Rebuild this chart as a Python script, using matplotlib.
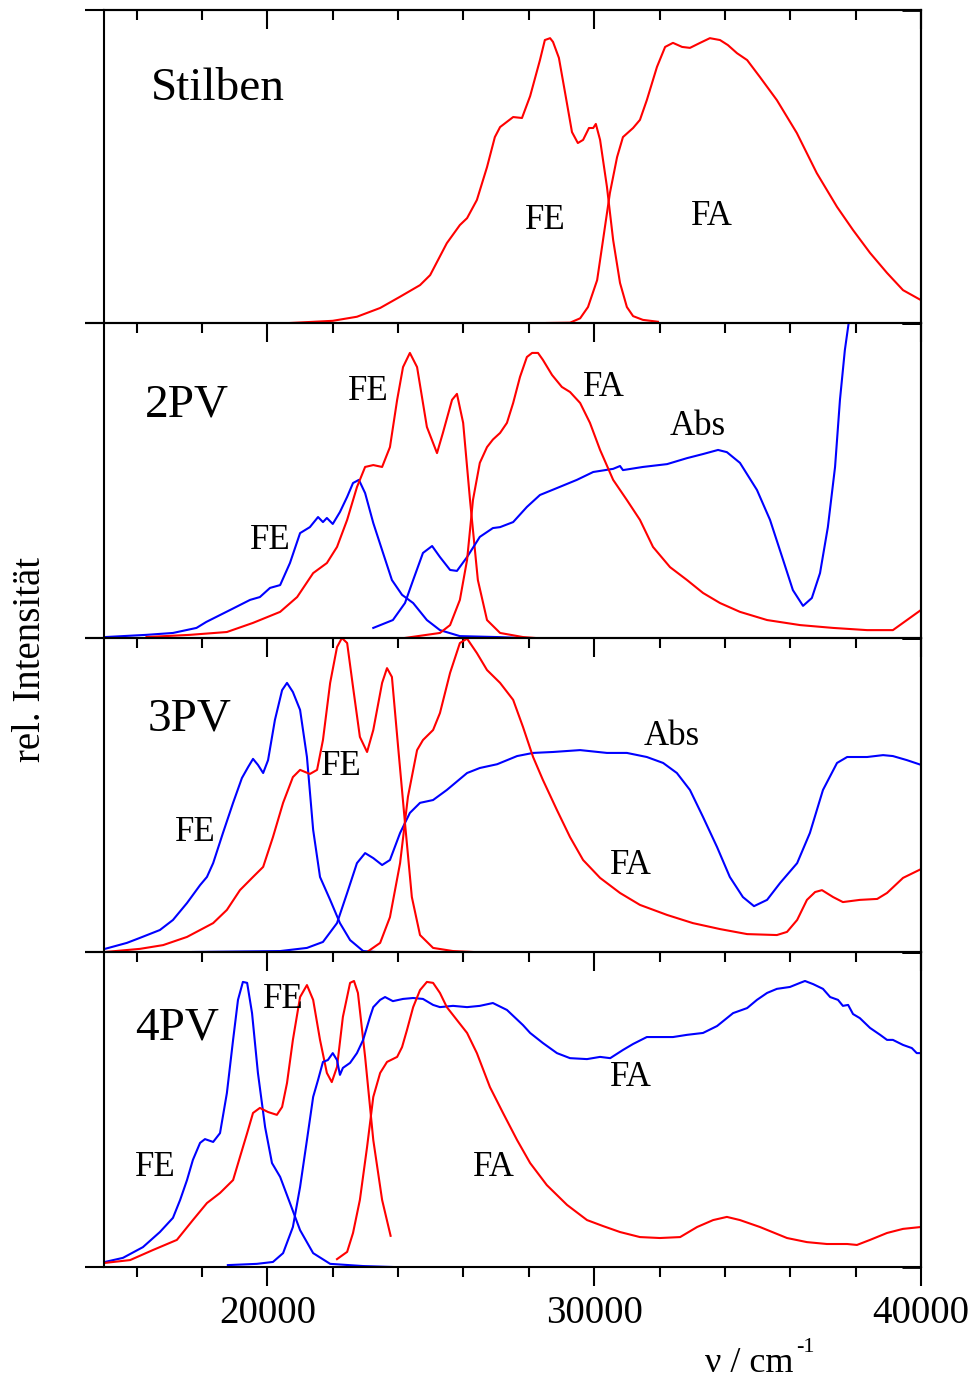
import matplotlib
matplotlib.use("Agg")
import matplotlib.pyplot as plt

plt.rcParams["font.family"] = ["Liberation Serif", "DejaVu Serif"]

RED = "#ff0000"
BLUE = "#0000ff"

# x axis, wavenumber in cm^-1
X_MIN, X_MAX = 15000, 40000
MAJOR_TICKS = [20000, 30000, 40000]
MINOR_TICKS = [16000, 18000, 22000, 24000, 26000, 28000, 32000, 34000, 36000, 38000]
TICK_LABELS = ["20000", "30000", "40000"]

# ---- Stilben ----
stilben_fe_x = [20690, 22000, 22740, 23450, 24060, 24670, 24980, 25490, 25890, 26110, 26410, 26720,
                26960, 27120, 27520, 27790, 28040, 28340, 28490, 28650, 28740, 28920, 29110, 29320,
                29500, 29660, 29840, 29970, 30050, 30180, 30390, 30580, 30790, 31000, 31190, 31490, 31950]
stilben_fe_y = [0, 0.007, 0.02, 0.048, 0.084, 0.121, 0.153, 0.255, 0.313, 0.335, 0.393, 0.498,
                0.594, 0.626, 0.658, 0.655, 0.725, 0.840, 0.904, 0.910, 0.898, 0.847, 0.735, 0.610,
                0.575, 0.585, 0.623, 0.623, 0.636, 0.585, 0.435, 0.265, 0.128, 0.051, 0.022, 0.010, 0.004]
stilben_fa_x = [28550, 29260, 29570, 29810, 30090, 30270, 30480, 30700, 30880, 31190, 31400, 31610,
                31920, 32170, 32410, 32690, 32930, 33240, 33540, 33850, 34090, 34370, 34680, 35070,
                35590, 36200, 36810, 37430, 37920, 38440, 38960, 39450, 40000]
stilben_fa_y = [0, 0.001, 0.015, 0.051, 0.137, 0.265, 0.415, 0.530, 0.594, 0.623, 0.649, 0.712,
                0.818, 0.882, 0.895, 0.882, 0.879, 0.895, 0.910, 0.904, 0.888, 0.862, 0.840, 0.786,
                0.712, 0.607, 0.479, 0.371, 0.297, 0.224, 0.160, 0.105, 0.073]

# ---- 2PV ----
pv2_fe_blue_x = [15030, 16300, 17110, 17830, 18130, 18860, 19470, 19770, 20080, 20390, 20690, 21000,
                 21300, 21550, 21700, 21820, 22000, 22220, 22440, 22620, 22800, 22990, 23240, 23510,
                 23810, 24120, 24460, 24880, 25280, 25890, 27030, 27800]
pv2_fe_blue_y = [0.003, 0.010, 0.016, 0.032, 0.051, 0.089, 0.121, 0.130, 0.159, 0.168, 0.238, 0.333,
                 0.352, 0.384, 0.368, 0.381, 0.362, 0.400, 0.448, 0.492, 0.502, 0.460, 0.365, 0.279,
                 0.184, 0.137, 0.111, 0.057, 0.025, 0.006, 0.003, 0.0]
pv2_fe_red_x = [16300, 17630, 18760, 19560, 20390, 20910, 21400, 21820, 22130, 22440, 22740, 22990,
                23240, 23510, 23750, 23970, 24150, 24360, 24580, 24880, 25190, 25370, 25650, 25800,
                25990, 26200, 26440, 26720, 27120, 27820, 28200]
pv2_fe_red_y = [0.003, 0.010, 0.019, 0.048, 0.083, 0.130, 0.206, 0.238, 0.289, 0.375, 0.479, 0.543,
                0.549, 0.543, 0.606, 0.756, 0.860, 0.905, 0.860, 0.670, 0.587, 0.651, 0.756, 0.775,
                0.683, 0.438, 0.184, 0.057, 0.016, 0.003, 0.0]
pv2_abs_x = [23240, 23840, 24210, 24460, 24760, 25040, 25280, 25590, 25800, 26110, 26500, 26900,
             27120, 27520, 27940, 28340, 28860, 29470, 29970, 30580, 30790, 30880, 31490, 32230,
             32840, 33330, 33790, 34060, 34460, 34980, 35380, 35780, 36080, 36390, 36660, 36910,
             37150, 37370, 37520, 37670, 37800, 37890]
pv2_abs_y = [0.032, 0.057, 0.111, 0.184, 0.270, 0.292, 0.257, 0.216, 0.213, 0.257, 0.321, 0.349,
             0.352, 0.368, 0.416, 0.454, 0.476, 0.502, 0.527, 0.537, 0.546, 0.533, 0.543, 0.552,
             0.571, 0.584, 0.597, 0.590, 0.556, 0.470, 0.375, 0.248, 0.152, 0.102, 0.127, 0.206,
             0.352, 0.543, 0.756, 0.914, 1.01, 1.04]
pv2_fa_x = [24200, 25280, 25590, 25890, 26110, 26290, 26500, 26720, 26900, 27120, 27330, 27520,
            27730, 27940, 28100, 28280, 28430, 28710, 29010, 29260, 29570, 29870, 30180, 30580,
            31000, 31400, 31800, 32320, 32840, 33330, 33850, 34460, 35290, 36300, 37310, 38350,
            39140, 39570, 40000]
pv2_fa_y = [0.0, 0.016, 0.041, 0.121, 0.248, 0.438, 0.556, 0.606, 0.630, 0.651, 0.683, 0.746,
            0.829, 0.892, 0.905, 0.905, 0.883, 0.835, 0.797, 0.781, 0.746, 0.683, 0.597, 0.502,
            0.438, 0.375, 0.289, 0.225, 0.184, 0.143, 0.111, 0.083, 0.057, 0.041, 0.032, 0.025,
            0.025, 0.057, 0.089]

# ---- 3PV ----
pv3_fe_blue_x = [15030, 15700, 16100, 16710, 17110, 17540, 17940, 18150, 18340, 18640, 18950, 19220,
                 19410, 19560, 19710, 19870, 20020, 20230, 20450, 20600, 20780, 21000, 21210, 21400,
                 21610, 21920, 22220, 22530, 22930, 23300]
pv3_fe_blue_y = [0.010, 0.029, 0.045, 0.070, 0.102, 0.156, 0.213, 0.239, 0.283, 0.379, 0.475, 0.554,
                 0.589, 0.615, 0.596, 0.570, 0.611, 0.739, 0.834, 0.857, 0.828, 0.771, 0.621, 0.389,
                 0.239, 0.166, 0.092, 0.038, 0.003, 0.0]
pv3_fe_red_x = [15030, 16100, 16810, 17540, 18340, 18760, 19160, 19560, 19870, 20170, 20480, 20780,
                21000, 21300, 21520, 21700, 21920, 22130, 22280, 22440, 22620, 22830, 23050, 23240,
                23510, 23660, 23810, 24000, 24210, 24420, 24670, 25070, 25680, 26290]
pv3_fe_red_y = [0.0, 0.010, 0.022, 0.048, 0.092, 0.134, 0.197, 0.239, 0.271, 0.366, 0.475, 0.557,
                0.580, 0.567, 0.580, 0.675, 0.857, 0.971, 1.0, 0.984, 0.844, 0.685, 0.637, 0.707,
                0.857, 0.904, 0.876, 0.653, 0.411, 0.175, 0.054, 0.013, 0.003, 0.0]
pv3_abs_x = [17720, 20390, 21210, 21700, 22130, 22440, 22740, 22990, 23240, 23510, 23750, 24060,
             24360, 24670, 25070, 25490, 26110, 26500, 27030, 27640, 28130, 28740, 29570, 30390,
             31000, 31610, 32110, 32530, 32930, 33330, 33760, 34150, 34550, 34890, 35290, 35690,
             36210, 36600, 37000, 37430, 37740, 38350, 38840, 39140, 39570, 40000]
pv3_abs_y = [0.0, 0.003, 0.013, 0.032, 0.092, 0.188, 0.283, 0.315, 0.299, 0.277, 0.293, 0.379,
             0.443, 0.475, 0.484, 0.516, 0.570, 0.586, 0.598, 0.624, 0.634, 0.637, 0.643, 0.634,
             0.634, 0.621, 0.602, 0.570, 0.516, 0.430, 0.334, 0.239, 0.175, 0.146, 0.166, 0.220,
             0.283, 0.379, 0.516, 0.602, 0.621, 0.621, 0.627, 0.624, 0.611, 0.596]
pv3_fa_x = [23050, 23450, 23750, 24060, 24300, 24580, 24760, 25070, 25280, 25590, 25890, 26110,
            26410, 26720, 27120, 27520, 27820, 28130, 28430, 28860, 29260, 29660, 30180, 30790,
            31400, 32230, 33020, 33850, 34680, 35590, 35900, 36210, 36510, 36760, 36970, 37310,
            37610, 38130, 38660, 38960, 39450, 40000]
pv3_fa_y = [0.0, 0.029, 0.111, 0.283, 0.494, 0.643, 0.675, 0.707, 0.761, 0.889, 0.984, 0.998,
            0.952, 0.898, 0.857, 0.803, 0.717, 0.621, 0.548, 0.452, 0.366, 0.293, 0.236, 0.188,
            0.150, 0.118, 0.092, 0.073, 0.057, 0.054, 0.064, 0.102, 0.166, 0.191, 0.197, 0.175,
            0.159, 0.166, 0.169, 0.188, 0.236, 0.264]

# ---- 4PV ----
pv4_fe_blue_x = [15030, 15580, 16190, 16710, 17110, 17330, 17540, 17720, 17940, 18090, 18340, 18550,
                 18760, 18950, 19100, 19250, 19380, 19530, 19710, 19930, 20140, 20390, 20690, 21000,
                 21400, 21920, 22930, 23840]
pv4_fe_blue_y = [0.016, 0.029, 0.063, 0.111, 0.156, 0.213, 0.276, 0.340, 0.394, 0.406, 0.397, 0.425,
                 0.552, 0.721, 0.848, 0.905, 0.902, 0.806, 0.616, 0.444, 0.330, 0.286, 0.203, 0.117,
                 0.044, 0.010, 0.003, 0.0]
pv4_fe_red_x = [15030, 15800, 16500, 17230, 17720, 18150, 18550, 18950, 19160, 19380, 19560, 19770,
                20020, 20290, 20450, 20600, 20780, 21000, 21210, 21400, 21610, 21820, 21970, 22130,
                22310, 22530, 22650, 22770, 22990, 23240, 23510, 23770]
pv4_fe_red_y = [0.013, 0.022, 0.054, 0.086, 0.149, 0.203, 0.235, 0.276, 0.349, 0.425, 0.489, 0.505,
                0.492, 0.483, 0.508, 0.584, 0.721, 0.857, 0.895, 0.848, 0.721, 0.616, 0.587, 0.635,
                0.794, 0.902, 0.908, 0.870, 0.667, 0.403, 0.213, 0.099]
pv4_abs_x = [18790, 19680, 20170, 20480, 20780, 21000, 21210, 21400, 21550, 21700, 21850, 22000,
             22130, 22220, 22310, 22530, 22740, 22930, 23140, 23240, 23450, 23600, 23840, 24150,
             24460, 24760, 25070, 25280, 25680, 26110, 26500, 26900, 27330, 27820, 28040, 28430,
             28860, 29260, 29780, 30180, 30490, 30880, 31190, 31610, 32010, 32410, 32840, 33330,
             33760, 34250, 34680, 34980, 35290, 35590, 35990, 36300, 36450, 36700, 37000, 37220,
             37460, 37610, 37770, 37920, 38130, 38440, 38750, 38960, 39140, 39450, 39720, 39870, 40000]
pv4_abs_y = [0.006, 0.010, 0.016, 0.044, 0.127, 0.254, 0.403, 0.540, 0.594, 0.651, 0.657, 0.679,
             0.657, 0.610, 0.632, 0.648, 0.679, 0.721, 0.794, 0.825, 0.848, 0.857, 0.844, 0.851,
             0.854, 0.851, 0.832, 0.825, 0.829, 0.825, 0.829, 0.838, 0.816, 0.768, 0.743, 0.711,
             0.679, 0.663, 0.660, 0.667, 0.663, 0.689, 0.708, 0.730, 0.730, 0.730, 0.737, 0.743,
             0.765, 0.806, 0.822, 0.848, 0.870, 0.883, 0.889, 0.902, 0.908, 0.898, 0.883, 0.857,
             0.848, 0.829, 0.832, 0.803, 0.790, 0.759, 0.737, 0.721, 0.721, 0.705, 0.695, 0.679, 0.679]
pv4_fa_x = [22130, 22440, 22620, 22830, 23050, 23240, 23450, 23660, 23970, 24120, 24270, 24460,
            24670, 24880, 25070, 25280, 25490, 25800, 26110, 26410, 26810, 27210, 27640, 28040,
            28550, 29170, 29780, 30270, 30790, 31400, 32010, 32630, 33150, 33640, 34060, 34460,
            35070, 35900, 36510, 37120, 37740, 38040, 38440, 38960, 39450, 40000]
pv4_fa_y = [0.025, 0.048, 0.108, 0.213, 0.381, 0.540, 0.616, 0.651, 0.667, 0.698, 0.752, 0.825,
            0.879, 0.905, 0.902, 0.870, 0.825, 0.784, 0.743, 0.679, 0.571, 0.489, 0.403, 0.330,
            0.260, 0.197, 0.149, 0.130, 0.111, 0.095, 0.092, 0.095, 0.127, 0.149, 0.159, 0.149,
            0.127, 0.092, 0.079, 0.073, 0.073, 0.070, 0.086, 0.108, 0.121, 0.127]

# panel edges in pixels (top, bottom) of a 975 x 1379 image
PANEL_EDGES = [(10, 323), (323, 638), (638, 952), (952, 1267)]
LEFT_PX, RIGHT_PX = 104, 921
W, H = 975, 1379

LW = 1.5
TITLE_SIZE = 34
NOTE_SIZE = 25


def setup_axis(ax: plt.Axes, show_labels: bool, top_ticks: bool) -> None:
    ax.set_xlim(X_MIN, X_MAX)
    ax.set_ylim(0, 1)
    ax.patch.set_visible(False)
    for spine in ax.spines.values():
        spine.set_linewidth(1.5)

    ax.set_xticks(MAJOR_TICKS)
    ax.set_xticks(MINOR_TICKS, minor=True)
    ax.tick_params(axis="x", which="major", direction="out", length=14, width=1.5,
                   labelsize=28, pad=6, labelbottom=show_labels)
    ax.tick_params(axis="x", which="minor", direction="out", length=7, width=1.5)
    if show_labels:
        ax.set_xticklabels(TICK_LABELS)

    ax.set_yticks([0, 1])
    ax.tick_params(axis="y", direction="out", length=14, width=1.5, labelleft=False)

    # right side ticks point inward
    sec_y = ax.secondary_yaxis("right")
    sec_y.set_yticks([0, 1])
    sec_y.tick_params(direction="in", length=14, width=2, labelright=False)
    sec_y.spines["right"].set_linewidth(1.5)

    if top_ticks:
        sec_x = ax.secondary_xaxis("top")
        sec_x.set_xticks(MAJOR_TICKS)
        sec_x.set_xticks(MINOR_TICKS, minor=True)
        sec_x.tick_params(which="major", direction="in", length=14, width=1.5, labeltop=False)
        sec_x.tick_params(which="minor", direction="in", length=7, width=1.5)
        sec_x.spines["top"].set_linewidth(1.5)


fig = plt.figure(figsize=(W / 100, H / 100), dpi=100)
axes = []
for i, (top, bottom) in enumerate(PANEL_EDGES):
    ax = fig.add_axes([LEFT_PX / W, 1 - bottom / H, (RIGHT_PX - LEFT_PX) / W, (bottom - top) / H])
    setup_axis(ax, show_labels=(i == 3), top_ticks=(i == 0))
    axes.append(ax)

# Stilben
ax = axes[0]
ax.plot(stilben_fe_x, stilben_fe_y, color=RED, lw=LW)
ax.plot(stilben_fa_x, stilben_fa_y, color=RED, lw=LW)
ax.text(16440, 0.712, "Stilben", fontsize=TITLE_SIZE, ha="left", va="baseline")
ax.text(28490, 0.329, "FE", fontsize=NOTE_SIZE, ha="center", va="center")
ax.text(33600, 0.339, "FA", fontsize=NOTE_SIZE, ha="center", va="center")

# 2PV
ax = axes[1]
ax.plot(pv2_fe_blue_x, pv2_fe_blue_y, color=BLUE, lw=LW)
ax.plot(pv2_fe_red_x, pv2_fe_red_y, color=RED, lw=LW)
ax.plot(pv2_abs_x, pv2_abs_y, color=BLUE, lw=LW)
ax.plot(pv2_fa_x, pv2_fa_y, color=RED, lw=LW)
ax.text(16250, 0.702, "2PV", fontsize=TITLE_SIZE, ha="left", va="baseline")
ax.text(23080, 0.781, "FE", fontsize=NOTE_SIZE, ha="center", va="center")
ax.text(20080, 0.308, "FE", fontsize=NOTE_SIZE, ha="center", va="center")
ax.text(30300, 0.794, "FA", fontsize=NOTE_SIZE, ha="center", va="center")
ax.text(33180, 0.673, "Abs", fontsize=NOTE_SIZE, ha="center", va="center")

# 3PV
ax = axes[2]
ax.plot(pv3_fe_blue_x, pv3_fe_blue_y, color=BLUE, lw=LW)
ax.plot(pv3_fe_red_x, pv3_fe_red_y, color=RED, lw=LW)
ax.plot(pv3_abs_x, pv3_abs_y, color=BLUE, lw=LW)
ax.plot(pv3_fa_x, pv3_fa_y, color=RED, lw=LW)
ax.text(16320, 0.704, "3PV", fontsize=TITLE_SIZE, ha="left", va="baseline")
ax.text(17780, 0.379, "FE", fontsize=NOTE_SIZE, ha="center", va="center")
ax.text(22250, 0.592, "FE", fontsize=NOTE_SIZE, ha="center", va="center")
ax.text(32380, 0.685, "Abs", fontsize=NOTE_SIZE, ha="center", va="center")
ax.text(31130, 0.274, "FA", fontsize=NOTE_SIZE, ha="center", va="center")

# 4PV
ax = axes[3]
ax.plot(pv4_fe_blue_x, pv4_fe_blue_y, color=BLUE, lw=LW)
ax.plot(pv4_fe_red_x, pv4_fe_red_y, color=RED, lw=LW)
ax.plot(pv4_abs_x, pv4_abs_y, color=BLUE, lw=LW)
ax.plot(pv4_fa_x, pv4_fa_y, color=RED, lw=LW)
ax.text(15950, 0.721, "4PV", fontsize=TITLE_SIZE, ha="left", va="baseline")
ax.text(16560, 0.317, "FE", fontsize=NOTE_SIZE, ha="center", va="center")
ax.text(20480, 0.848, "FE", fontsize=NOTE_SIZE, ha="center", va="center")
ax.text(26930, 0.317, "FA", fontsize=NOTE_SIZE, ha="center", va="center")
ax.text(31130, 0.603, "FA", fontsize=NOTE_SIZE, ha="center", va="center")

# axis titles, superscript written as a separate small raised text
fig.text(705 / W, 1 - 1372 / H, "ν / cm", fontsize=26, ha="left", va="baseline")
fig.text(796 / W, 1 - 1352 / H, "-1", fontsize=16, ha="left", va="baseline")
fig.text(31 / W, 1 - 660 / H, "rel. Intensität", fontsize=28, rotation=90, ha="center", va="center")

fig.savefig("out.png", dpi=100, facecolor="white")
